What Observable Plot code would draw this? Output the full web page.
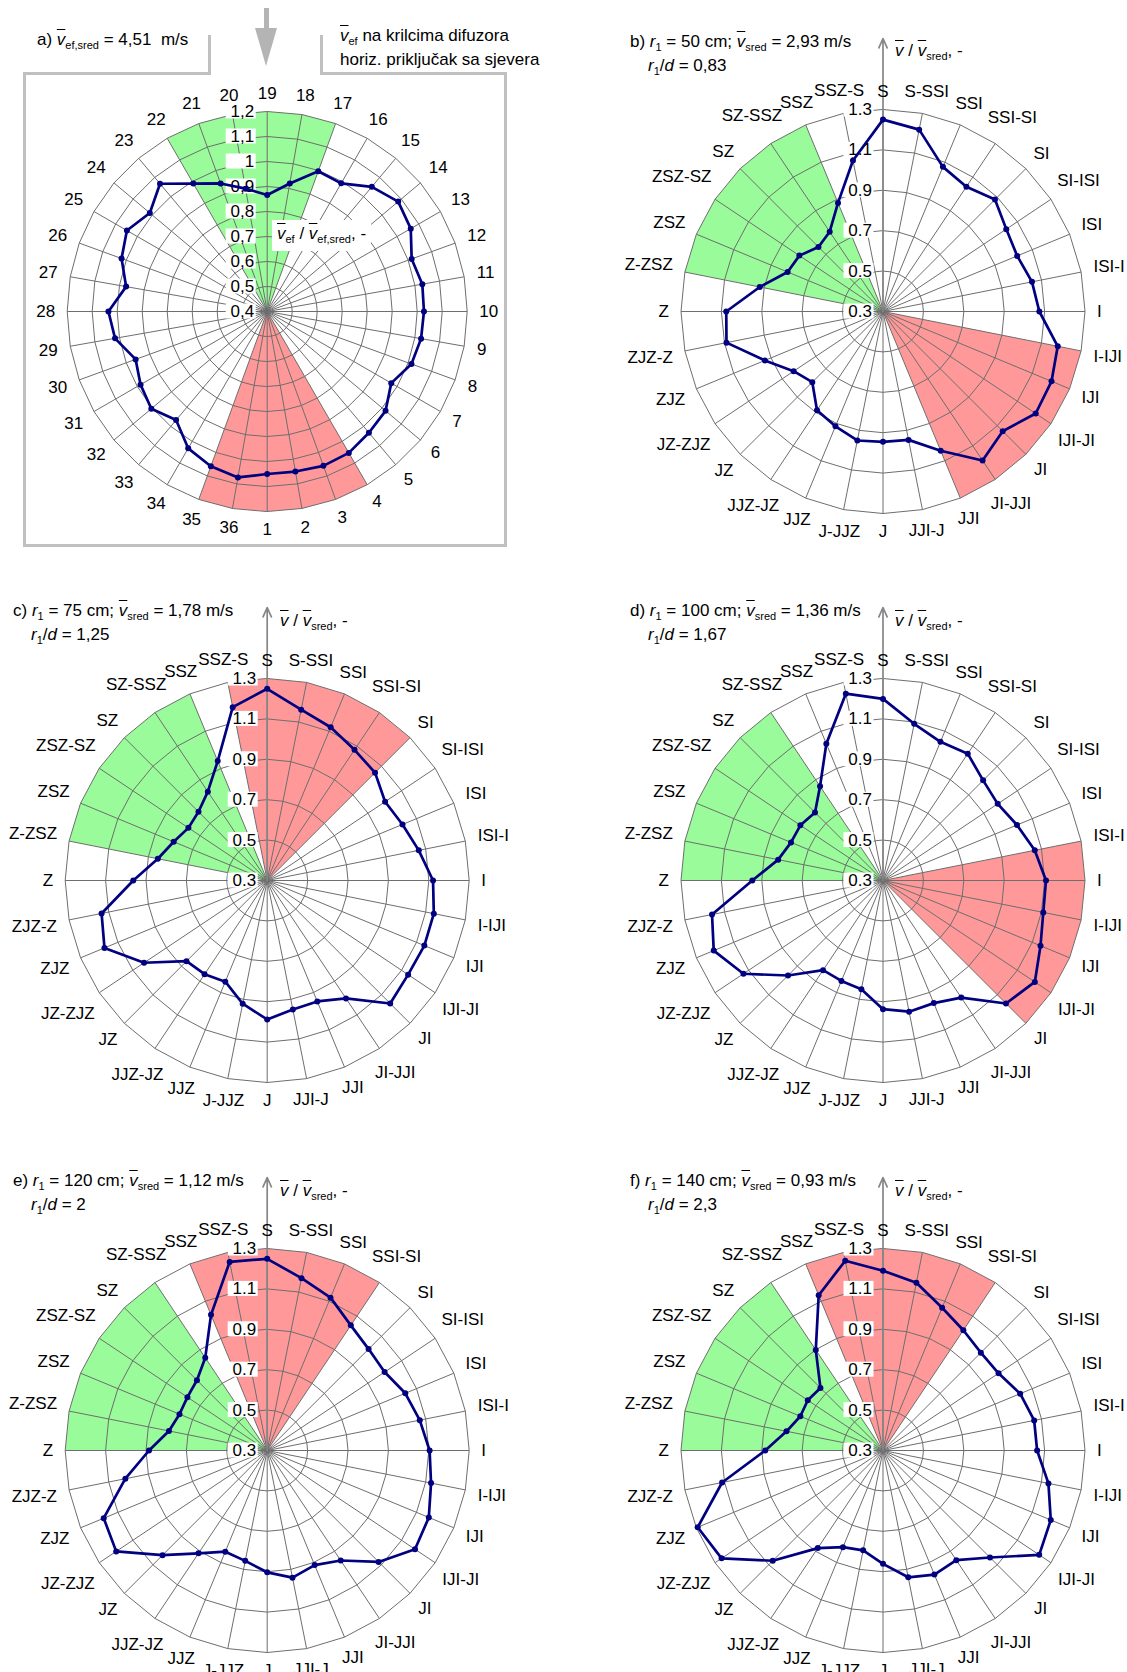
<!DOCTYPE html>
<html><head><meta charset="utf-8">
<script src="https://cdn.jsdelivr.net/npm/d3@7"></script>
<script src="https://cdn.jsdelivr.net/npm/@observablehq/plot@0.6"></script>
<style>
body{margin:0;background:#fff;}
#wrap{position:relative;width:1127px;height:1672px;overflow:hidden;background:#fff;font-family:"Liberation Sans",Arial,sans-serif;color:#000;}
.cell{position:absolute;}
.t{position:absolute;font-size:17px;line-height:17px;white-space:nowrap;}
.ov{text-decoration:overline;font-style:italic;}
.it{font-style:italic;}
.sub{font-size:11px;position:relative;top:4px;}
.fr{position:absolute;background:#c0c0c0;}
</style></head><body><div id="wrap"></div>
<script>
// ---------- DATA ----------
const labelsA = d3.range(1, 37).map(String);
const valuesA = [1.05, 1.05, 1.057, 1.053, 1.033, 1.018, 0.973, 1.014, 1.025, 1.027, 1.03, 1.015,
  1.063, 1.084, 1.051, 0.992, 0.997, 0.92, 0.866, 0.899, 0.945, 0.991, 1.067, 1.013,
  1.048, 1.02, 0.973, 1.035, 1.018, 0.96, 0.985, 1.005, 0.967, 1.032, 1.059, 1.074];

const dirs32 = ["S","S-SSI","SSI","SSI-SI","SI","SI-ISI","ISI","ISI-I","I","I-IJI","IJI","IJI-JI",
  "JI","JI-JJI","JJI","JJI-J","J","J-JJZ","JJZ","JJZ-JZ","JZ","JZ-ZJZ","ZJZ","ZJZ-Z",
  "Z","Z-ZSZ","ZSZ","ZSZ-SZ","SZ","SZ-SSZ","SSZ","SSZ-S"];

const valuesB = [1.25, 1.218, 1.075, 1.043, 1.084, 1.034, 1.019, 1.052, 1.074, 1.182, 1.203, 1.209,
  1.138, 1.187, 1.046, 0.948, 0.945, 0.951, 0.915, 0.888, 0.795, 0.832, 0.933, 1.09,
  1.076, 0.922, 0.811, 0.798, 0.752, 0.775, 0.882, 1.062];
const valuesC = [1.249, 1.162, 1.121, 1.078, 1.055, 1.002, 1.025, 1.065, 1.121, 1.141, 1.142, 1.139,
  1.161, 1.002, 0.948, 0.951, 0.988, 0.922, 0.842, 0.858, 0.865, 1.033, 1.172, 1.136,
  0.963, 0.852, 0.801, 0.769, 0.781, 0.829, 0.94, 1.175];
const valuesD = [1.199, 1.091, 1.043, 1.055, 1.001, 0.983, 1.018, 1.066, 1.107, 1.109, 1.144, 1.204,
  1.161, 0.997, 0.957, 0.962, 0.937, 0.849, 0.838, 0.834, 0.965, 1.131, 1.207, 1.163,
  0.947, 0.829, 0.793, 0.792, 0.776, 0.861, 1.033, 1.243];
const valuesE = [1.249, 1.17, 1.119, 1.045, 1.01, 0.999, 1.04, 1.07, 1.104, 1.127, 1.166, 1.18,
  1.08, 0.955, 0.914, 0.942, 0.903, 0.857, 0.842, 0.912, 1.033, 1.199, 1.176, 1.016,
  0.885, 0.796, 0.77, 0.775, 0.792, 0.852, 1.027, 1.252];
const valuesF = [1.19, 1.147, 1.065, 1.016, 0.985, 0.988, 1.035, 1.063, 1.063, 1.135, 1.199, 1.23,
  1.049, 0.953, 0.965, 0.94, 0.861, 0.804, 0.818, 0.881, 1.072, 1.261, 1.293, 1.112,
  0.883, 0.787, 0.743, 0.748, 0.738, 0.899, 1.132, 1.258];

const ticksA = [0.4, 0.5, 0.6, 0.7, 0.8, 0.9, 1.0, 1.1, 1.2];
const tickLabelsA = ["0,4","0,5","0,6","0,7","0,8","0,9","1","1,1","1,2"];
const ticks32 = [0.3, 0.5, 0.7, 0.9, 1.1, 1.3];
const tickLabels32 = ["0.3","0.5","0.7","0.9","1.1","1.3"];

// sector bearing ranges (degrees clockwise from north)
const greenA = [330, 380], redA = [150, 200];
const greenB = [281.25, 337.5], redB = [101.25, 157.5];
const greenC = [281.25, 337.5], redC = [348.75, 405];
const greenD = [270, 326.25], redD = [78.75, 135];
const greenE = [270, 326.25], redE = [337.5, 393.75];
const greenF = [270, 326.25], redF = [337.5, 393.75];

// ---------- STYLE ----------
const FONT = '"Liberation Sans", Arial, sans-serif';
const FS = 17;
const GREEN = "#99fb99", RED = "#ff9999", GRID = "#6e6e6e", AX = "#868686", NAVY = "#000080";

const ctx = document.createElement("canvas").getContext("2d");
ctx.font = `${FS}px "Liberation Sans"`;
const tw = s => ctx.measureText(s).width;

const bearingsA = labelsA.map((_, i) => ((180 - i * 10) % 360 + 360) % 360);
const bearings32 = dirs32.map((_, i) => i * 11.25);

const wrap = document.getElementById("wrap");

function panel(o) {
  const {left, top, width, height, cx, cy, R, v0, vmax, bearings, labels, values, ticks, tickLabels, green, red, arrow, boxDx} = o;
  const ppu = R / (vmax - v0);
  const px = p => p / ppu;
  const n = bearings.length, step = 360 / n;
  const X = (b, v) => (v - v0) * Math.sin(b * Math.PI / 180);
  const Y = (b, v) => (v - v0) * Math.cos(b * Math.PI / 180);
  function sector([b1, b2]) {
    const pts = [{b: 0, v: v0}];
    for (let b = b1; b <= b2 + 1e-6; b += step) pts.push({b, v: vmax});
    return pts;
  }
  const spokes = bearings.map(b => ({b}));
  const rings = ticks.filter(t => t > v0 + 1e-9).flatMap(t => bearings.map(b => ({t, b})));
  const tickData = ticks.map((t, i) => ({t, s: tickLabels[i]}));
  const series = values.map((v, i) => ({b: bearings[i], v}));
  const labData = labels.map((s, i) => {
    const b = bearings[i], a = b * Math.PI / 180;
    const rp = R + 12 + 6.2 * Math.abs(Math.cos(a)) + tw(s) / 2 * Math.abs(Math.sin(a));
    return {s, x: px(rp) * Math.sin(a), y: px(rp) * Math.cos(a)};
  });
  const marks = [
    Plot.line(sector(green), {x: d => X(d.b, d.v), y: d => Y(d.b, d.v), fill: GREEN, stroke: "none", curve: "linear-closed"}),
    Plot.line(sector(red), {x: d => X(d.b, d.v), y: d => Y(d.b, d.v), fill: RED, stroke: "none", curve: "linear-closed"}),
    Plot.line(rings, {x: d => X(d.b, d.t), y: d => Y(d.b, d.t), z: "t", curve: "linear-closed", stroke: GRID, strokeWidth: 1}),
    Plot.link(spokes, {x1: 0, y1: 0, x2: d => X(d.b, vmax), y2: d => Y(d.b, vmax), stroke: GRID, strokeWidth: 1})
  ];
  if (arrow) marks.push(Plot.arrow([0], {x1: 0, y1: 0, x2: 0, y2: px(R + 71), stroke: AX, strokeWidth: 1.7, headLength: 9, headAngle: 48}));
  marks.push(
    Plot.rect(tickData, {x1: px(boxDx - 28), x2: px(boxDx + 2), y1: d => d.t - v0 - px(7.5), y2: d => d.t - v0 + px(7.5), fill: "white"}),
    Plot.text(tickData, {x: 0, y: d => d.t - v0, text: "s", textAnchor: "end", dx: boxDx, fill: "black", fontSize: FS}),
    Plot.line(series, {x: d => X(d.b, d.v), y: d => Y(d.b, d.v), curve: "linear-closed", stroke: NAVY, strokeWidth: 2.7}),
    Plot.dot(series, {x: d => X(d.b, d.v), y: d => Y(d.b, d.v), r: 3, fill: NAVY}),
    Plot.text(labData, {x: "x", y: "y", text: "s", fill: "black", fontSize: FS})
  );
  const svg = Plot.plot({
    width, height, margin: 0,
    x: {domain: [-px(cx - left), px(left + width - cx)], range: [0, width], axis: null},
    y: {domain: [-px(top + height - cy), px(cy - top)], range: [height, 0], axis: null},
    style: {overflow: "visible", fontFamily: FONT, fontSize: FS + "px", background: "transparent"},
    marks
  });
  const d = document.createElement("div");
  d.className = "cell";
  d.style.left = left + "px"; d.style.top = top + "px";
  d.appendChild(svg);
  wrap.appendChild(d);
}

function txt(html, x, baseline, extra) {
  const d = document.createElement("div");
  d.className = "t";
  d.style.left = x + "px"; d.style.top = (baseline - 14.4) + "px";
  if (extra) Object.assign(d.style, extra);
  d.innerHTML = html;
  wrap.appendChild(d);
}
function fr(x, y, w, h, c) {
  const d = document.createElement("div");
  d.className = "fr";
  Object.assign(d.style, {left: x + "px", top: y + "px", width: w + "px", height: h + "px"});
  if (c) d.style.background = c;
  wrap.appendChild(d);
}

// Panel a frame and arrow
fr(22.5, 72.2, 3, 474.7);     // left
fr(503.5, 72.2, 3, 474.7);    // right
fr(22.5, 543.9, 484, 3);      // bottom
fr(22.5, 72.2, 188.3, 3);     // top-left
fr(320.2, 72.2, 186.3, 3);    // top-right
fr(207.8, 35.3, 3, 39.9);     // notch left
fr(320.2, 35.3, 3, 39.9);     // notch right
fr(264.4, 8, 4.6, 22, "#b4b4b4");
{
  const t = document.createElement("div");
  Object.assign(t.style, {position: "absolute", left: "255px", top: "28px", width: 0, height: 0,
    borderLeft: "11.7px solid transparent", borderRight: "11.7px solid transparent", borderTop: "38.6px solid #b4b4b4"});
  wrap.appendChild(t);
}

const common32 = {R: 202, v0: 0.3, vmax: 1.3, bearings: bearings32, labels: dirs32, ticks: ticks32, tickLabels: tickLabels32, arrow: true, boxDx: -11};
panel({left: 0, top: 0, width: 563, height: 560, cx: 266.7, cy: 311, R: 200, v0: 0.4, vmax: 1.2,
  bearings: bearingsA, labels: labelsA, values: valuesA, ticks: ticksA, tickLabels: tickLabelsA,
  green: greenA, red: redA, arrow: false, boxDx: -13});
panel({...common32, left: 563, top: 0, width: 564, height: 560, cx: 882.5, cy: 311, values: valuesB, green: greenB, red: redB});
panel({...common32, left: 0, top: 560, width: 563, height: 565, cx: 266.7, cy: 880, values: valuesC, green: greenC, red: redC});
panel({...common32, left: 563, top: 560, width: 564, height: 565, cx: 882.5, cy: 880, values: valuesD, green: greenD, red: redD});
panel({...common32, left: 0, top: 1125, width: 563, height: 547, cx: 266.7, cy: 1450, values: valuesE, green: greenE, red: redE});
panel({...common32, left: 563, top: 1125, width: 564, height: 547, cx: 882.5, cy: 1450, values: valuesF, green: greenF, red: redF});

// ---------- TEXT ----------
const V = '<span class="ov">v</span>';
const S = s => `<span class="sub">${s}</span>`;
const r1 = `<span class="it">r</span>${S("1")}`;
txt(`a) ${V}${S("ef,sred")} = 4,51&nbsp; m/s`, 37, 45);
txt(`${V}${S("ef")} na krilcima difuzora`, 340, 41);
txt(`horiz. priključak sa sjevera`, 340, 65);
txt(`${V}${S("ef")} / ${V}${S("ef,sred")}, -`, 272, 239, {background: "#fff", padding: "5px 5px 7px 5px", marginTop: "-5px"});

const titles = [
  {x: 630, y: 47, l1: `b) ${r1} = 50 cm; ${V}${S("sred")} = 2,93 m/s`, l2: `${r1}/<span class="it">d</span> = 0,83`, ax: 895, ay: 56},
  {x: 13, y: 616, l1: `c) ${r1} = 75 cm; ${V}${S("sred")} = 1,78 m/s`, l2: `${r1}/<span class="it">d</span> = 1,25`, ax: 280, ay: 626},
  {x: 630, y: 616, l1: `d) ${r1} = 100 cm; ${V}${S("sred")} = 1,36 m/s`, l2: `${r1}/<span class="it">d</span> = 1,67`, ax: 895, ay: 626},
  {x: 13, y: 1186, l1: `e) ${r1} = 120 cm; ${V}${S("sred")} = 1,12 m/s`, l2: `${r1}/<span class="it">d</span> = 2`, ax: 280, ay: 1196},
  {x: 630, y: 1186, l1: `f) ${r1} = 140 cm; ${V}${S("sred")} = 0,93 m/s`, l2: `${r1}/<span class="it">d</span> = 2,3`, ax: 895, ay: 1196}
];
for (const t of titles) {
  txt(t.l1, t.x, t.y);
  txt(t.l2, t.x + 18, t.y + 24);
  txt(`${V} / ${V}${S("sred")}, -`, t.ax, t.ay);
}
</script></body></html>
